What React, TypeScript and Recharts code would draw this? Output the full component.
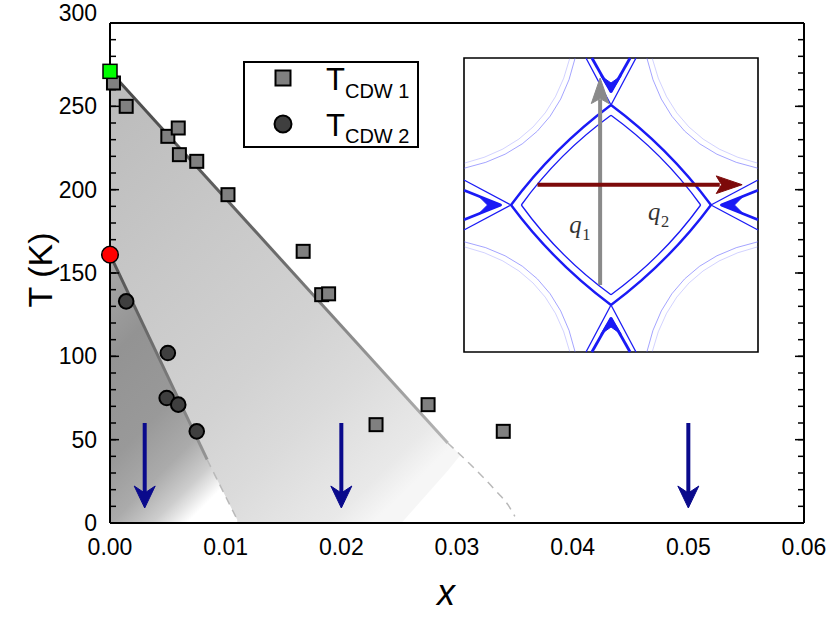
import React from 'react';
import { ComposedChart, XAxis, YAxis, Line, Area, Scatter, ReferenceLine, Legend } from 'recharts';

// ---------- axes ----------
const xTicks = [0, 0.01, 0.02, 0.03, 0.04, 0.05, 0.06];
const xMinorTicks = [0, 0.0025, 0.005, 0.0075, 0.01, 0.0125, 0.015, 0.0175, 0.02, 0.0225, 0.025, 0.0275, 0.03, 0.0325, 0.035, 0.0375, 0.04, 0.0425, 0.045, 0.0475, 0.05, 0.0525, 0.055, 0.0575, 0.06];
const yTicks = [0, 50, 100, 150, 200, 250, 300];
const yMinorTicks = [0, 10, 20, 30, 40, 50, 60, 70, 80, 90, 100, 110, 120, 130, 140, 150, 160, 170, 180, 190, 200, 210, 220, 230, 240, 250, 260, 270, 280, 290, 300];

// ---------- measured points ----------
const cdw1X = [0.0003, 0.0014, 0.005, 0.0059, 0.006, 0.0075, 0.0102, 0.0167, 0.0183, 0.0189, 0.023, 0.0275, 0.034];
const cdw1Y = [264, 250, 232, 237, 221, 217, 197, 163, 137, 137.5, 59, 71, 55];
const cdw2X = [0.0014, 0.005, 0.0049, 0.0059, 0.0075];
const cdw2Y = [133, 102, 75, 71, 55];
const cdw1ZeroX = [0];
const cdw1ZeroY = [271];
const cdw2ZeroX = [0];
const cdw2ZeroY = [161];

// ---------- phase boundaries ----------
const line1SolidX = [0, 0.0292];
const line1SolidY = [271, 48];
const line1DashX = [0.0292, 0.0311, 0.0334, 0.0344, 0.035];
const line1DashY = [48, 35.5, 19, 11, 4];
const line2SolidX = [0, 0.0084];
const line2SolidY = [161, 38];
const line2DashX = [0.0084, 0.011];
const line2DashY = [38, 2];

// shaded regions [low, high]
const outerBandX = [0, 0.0252, 0.0292, 0.0303];
const outerBandLow = [0, 0, 31.4, 40.8];
const outerBandHigh = [271, 78.6, 48, 40.8];
const innerBandX = [0, 0.0084, 0.011];
const innerBandLow = [0, 0, 0];
const innerBandHigh = [161, 38, 2];

// blue arrows
const arrowX = [0.003, 0.02, 0.05];
const arrowTopY = 60;
const arrowStemEndY = 17;
const arrowTipY = 9;

const pts = (xs: number[], ys: number[]) => xs.map((x, i) => ({ x, y: ys[i] }));
const band = (xs: number[], lo: number[], hi: number[]) => xs.map((x, i) => ({ x, band: [lo[i], hi[i]] }));

const cdw1 = pts(cdw1X, cdw1Y);
const cdw2 = pts(cdw2X, cdw2Y);
const cdw1Zero = pts(cdw1ZeroX, cdw1ZeroY);
const cdw2Zero = pts(cdw2ZeroX, cdw2ZeroY);
const line1Solid = pts(line1SolidX, line1SolidY);
const line1Dash = pts(line1DashX, line1DashY);
const line2Solid = pts(line2SolidX, line2SolidY);
const line2Dash = pts(line2DashX, line2DashY);
const outerBand = band(outerBandX, outerBandLow, outerBandHigh);
const innerBand = band(innerBandX, innerBandLow, innerBandHigh);
const arrowTips = arrowX.map((x) => ({ x, y: arrowTipY }));

const FONT = "'Liberation Sans', Arial, Helvetica, sans-serif";
const SERIF = "'Liberation Serif', 'DejaVu Serif', 'Times New Roman', serif";
const NAVY = '#0a0a8c';

const SquareShape = (p: any) => (
  <rect x={p.cx - 6.5} y={p.cy - 6.5} width={13} height={13} fill="#808080" stroke="#000" strokeWidth={2} />
);
const GreenSquare = (p: any) => (
  <rect x={p.cx - 7} y={p.cy - 7} width={14} height={14} fill="#00ff00" stroke="#000" strokeWidth={1.5} />
);
const CircleShape = (p: any) => (
  <circle cx={p.cx} cy={p.cy} r={7.3} fill="#3f3f3f" stroke="#000" strokeWidth={2} />
);
const RedCircle = (p: any) => (
  <circle cx={p.cx} cy={p.cy} r={8.3} fill="#ff0000" stroke="#000" strokeWidth={1.5} />
);
const ArrowHead = (p: any) => (
  <path
    d={`M ${p.cx} ${p.cy} L ${p.cx - 10.5} ${p.cy - 22} L ${p.cx} ${p.cy - 15} L ${p.cx + 10.5} ${p.cy - 22} Z`}
    fill={NAVY}
    stroke={NAVY}
    strokeWidth={1}
    strokeLinejoin="round"
  />
);

const YTick = (props: any) => {
  const { x, y, payload } = props;
  const shift = payload.value === 300 ? -10 : 0;
  return (
    <text x={x} y={y + shift} dy="0.355em" textAnchor="end" fontSize={23} fontFamily={FONT} fill="#000">
      {payload.value}
    </text>
  );
};

const YTitle = (props: any) => {
  const vb = props.viewBox || { x: 0, y: 23, width: 110, height: 500 };
  const cx = vb.x + 52;
  const cy = vb.y + vb.height / 2 - 3;
  return (
    <text x={cx} y={cy} transform={`rotate(-90 ${cx} ${cy})`} textAnchor="middle" fontSize={34} fontFamily={FONT} fill="#000">
      T (K)
    </text>
  );
};

const XTitle = (props: any) => {
  const vb = props.viewBox || { x: 110, y: 523, width: 694, height: 60 };
  return (
    <text x={vb.x + vb.width / 2 - 11} y={vb.y + 82} textAnchor="middle" fontSize={36} fontStyle="italic" fontFamily={FONT} fill="#000">
      x
    </text>
  );
};

const LegendContent = () => (
  <div style={{ boxSizing: 'border-box', width: 176, height: 87, border: '2px solid #000', background: '#fff' }}>
    <svg width={172} height={83} style={{ display: 'block' }}>
      <rect x={30.5} y={7.5} width={15} height={15} fill="#808080" stroke="#000" strokeWidth={2} />
      <circle cx={38} cy={61} r={8.5} fill="#3f3f3f" stroke="#000" strokeWidth={2} />
      <text x={81} y={27} fontSize={31} fontFamily={FONT} fill="#000">
        T<tspan fontSize={20} dy={8}>CDW 1</tspan>
      </text>
      <text x={81} y={73} fontSize={31} fontFamily={FONT} fill="#000">
        T<tspan fontSize={20} dy={7}>CDW 2</tspan>
      </text>
    </svg>
  </div>
);

const BLUE = '#1a1af5';
const quadrantTransforms = ['', 'matrix(-1 0 0 1 100 0)', 'matrix(1 0 0 -1 0 100)', 'matrix(-1 0 0 -1 100 100)'];

const Quadrant = ({ t }: { t: string }) => (
  <g transform={t || undefined} fill="none">
    {/* faint corner arcs */}
    <path d="M 37.8 0 Q 31 31 0 37.5" stroke="#5a5aff" strokeOpacity={0.55} strokeWidth={1} vectorEffect="non-scaling-stroke" />
    <path d="M 36 0 Q 29 29 0 35.8" stroke="#5a5aff" strokeOpacity={0.35} strokeWidth={0.8} vectorEffect="non-scaling-stroke" />
    {/* outer thick diamond side */}
    <path d="M 16 50 Q 30.5 30.5 50 16" stroke={BLUE} strokeWidth={2.4} vectorEffect="non-scaling-stroke" />
    {/* inner thin diamond side */}
    <path d="M 19.5 50 Q 32.3 32.3 50 19.5" stroke={BLUE} strokeWidth={1.3} vectorEffect="non-scaling-stroke" />
    {/* X extensions */}
    <path d="M 50 16 L 41.5 0" stroke={BLUE} strokeWidth={1.3} vectorEffect="non-scaling-stroke" />
    <path d="M 16 50 L 0 41.5" stroke={BLUE} strokeWidth={1.3} vectorEffect="non-scaling-stroke" />
    {/* pockets */}
    <path d="M 43.5 0 L 50 11.5" stroke={BLUE} strokeWidth={2.8} vectorEffect="non-scaling-stroke" />
    <path d="M 46.5 6 L 50 11.8 L 50 8.5 Z" fill={BLUE} stroke={BLUE} strokeWidth={1} vectorEffect="non-scaling-stroke" />
    <path d="M 0 45 L 12.5 50" stroke={BLUE} strokeWidth={2.8} vectorEffect="non-scaling-stroke" />
    <path d="M 5 47 L 12.8 50 L 8 50 Z" fill={BLUE} stroke={BLUE} strokeWidth={1} vectorEffect="non-scaling-stroke" />
  </g>
);

const Inset = () => (
  <svg
    width={294}
    height={294}
    viewBox="0 0 100 100"
    style={{ position: 'absolute', left: 464, top: 58, overflow: 'visible' }}
  >
    <rect x={0} y={0} width={100} height={100} fill="#fff" stroke="#000" strokeWidth={1.6} vectorEffect="non-scaling-stroke" />
    {quadrantTransforms.map((t, i) => (
      <Quadrant key={i} t={t} />
    ))}
    {/* q1 arrow (gray, vertical) */}
    <line x1={46.3} y1={77.2} x2={46.3} y2={14} stroke="#8a8a8a" strokeWidth={4} vectorEffect="non-scaling-stroke" />
    <path d="M 46.3 6.8 L 43.3 15.5 L 46.3 13.8 L 49.3 15.5 Z" fill="#8a8a8a" stroke="#8a8a8a" strokeWidth={1} vectorEffect="non-scaling-stroke" />
    {/* q2 arrow (dark red, horizontal) */}
    <line x1={25} y1={43.1} x2={87} y2={43.1} stroke="#7d0a0a" strokeWidth={4} vectorEffect="non-scaling-stroke" />
    <path d="M 94.6 43.1 L 85.8 40.1 L 87.6 43.1 L 85.8 46.1 Z" fill="#7d0a0a" stroke="#7d0a0a" strokeWidth={1} vectorEffect="non-scaling-stroke" />
    <text x={35.8} y={59.5} fontSize={8.4} fontStyle="italic" fontFamily={SERIF} fill="#333">
      q
    </text>
    <text x={40.2} y={62} fontSize={5.6} fontFamily={SERIF} fill="#333">
      1
    </text>
    <text x={62.6} y={55} fontSize={8.4} fontStyle="italic" fontFamily={SERIF} fill="#333">
      q
    </text>
    <text x={67} y={57.5} fontSize={5.6} fontFamily={SERIF} fill="#333">
      2
    </text>
  </svg>
);

const blank = () => '';
const TL = { stroke: '#000', strokeWidth: 1.5 };

export default function App() {
  return (
    <div style={{ position: 'absolute', left: 0, top: 0, width: 830, height: 622, background: '#fff' }}>
      <ComposedChart width={830} height={622} margin={{ top: 23, right: 26, bottom: 39, left: 0 }}>
        <defs>
          <linearGradient id="gOuter" x1="0" y1="0" x2="0.75" y2="1">
            <stop offset="0" stopColor="#bababa" />
            <stop offset="0.35" stopColor="#c8c8c8" />
            <stop offset="0.62" stopColor="#d2d2d2" />
            <stop offset="0.77" stopColor="#dbdbdb" />
            <stop offset="0.94" stopColor="#e9e9e9" />
            <stop offset="1" stopColor="#f6f6f6" />
          </linearGradient>
          <linearGradient id="gInner" x1="0" y1="0" x2="0.5" y2="1.05">
            <stop offset="0" stopColor="#a9a9a9" />
            <stop offset="0.3" stopColor="#939393" />
            <stop offset="0.6" stopColor="#999999" />
            <stop offset="0.78" stopColor="#ababab" />
            <stop offset="0.9" stopColor="#cdcdcd" />
            <stop offset="1" stopColor="#ffffff" />
          </linearGradient>
          <linearGradient id="gLine1" x1="0" y1="0" x2="0" y2="1">
            <stop offset="0" stopColor="#474747" />
            <stop offset="0.5" stopColor="#6c6c6c" />
            <stop offset="1" stopColor="#b5b5b5" />
          </linearGradient>
          <linearGradient id="gLine2" x1="0" y1="0" x2="0" y2="1">
            <stop offset="0" stopColor="#505050" />
            <stop offset="1" stopColor="#949494" />
          </linearGradient>
        </defs>

        {/* main axes with labels */}
        <XAxis
          xAxisId={0}
          dataKey="x"
          type="number"
          domain={[0, 0.06]}
          ticks={xTicks}
          interval={0}
          tickFormatter={(v: number) => v.toFixed(2)}
          tick={{ fontSize: 23, fontFamily: FONT, fill: '#000' }}
          tickLine={false}
          tickSize={0}
          tickMargin={16}
          axisLine={{ stroke: '#000', strokeWidth: 2 }}
          height={60}
          label={<XTitle />}
        />
        <YAxis
          yAxisId={0}
          type="number"
          domain={[0, 300]}
          ticks={yTicks}
          interval={0}
          tick={<YTick />}
          tickLine={false}
          tickSize={0}
          tickMargin={13}
          axisLine={{ stroke: '#000', strokeWidth: 2 }}
          width={110}
          label={<YTitle />}
        />
        {/* inward tick axes */}
        <XAxis xAxisId="bMaj" type="number" domain={[0, 0.06]} allowDataOverflow ticks={xTicks} interval={0} mirror height={1} tickSize={8} tickLine={TL} axisLine={false} tickFormatter={blank} />
        <XAxis xAxisId="bMin" type="number" domain={[0, 0.06]} allowDataOverflow ticks={xMinorTicks} interval={0} mirror height={1} tickSize={5} tickLine={TL} axisLine={false} tickFormatter={blank} />
        <XAxis xAxisId="tMaj" orientation="top" type="number" domain={[0, 0.06]} allowDataOverflow ticks={xTicks} interval={0} mirror height={1} tickSize={8} tickLine={TL} axisLine={{ stroke: '#000', strokeWidth: 2 }} tickFormatter={blank} />
        <XAxis xAxisId="tMin" orientation="top" type="number" domain={[0, 0.06]} allowDataOverflow ticks={xMinorTicks} interval={0} mirror height={1} tickSize={5} tickLine={TL} axisLine={false} tickFormatter={blank} />
        <YAxis yAxisId="lMaj" type="number" domain={[0, 300]} allowDataOverflow ticks={yTicks} interval={0} mirror width={1} tickSize={9} tickLine={TL} axisLine={false} tickFormatter={blank} />
        <YAxis yAxisId="lMin" type="number" domain={[0, 300]} allowDataOverflow ticks={yMinorTicks} interval={0} mirror width={1} tickSize={5} tickLine={TL} axisLine={false} tickFormatter={blank} />
        <YAxis yAxisId="rMaj" orientation="right" type="number" domain={[0, 300]} allowDataOverflow ticks={yTicks} interval={0} mirror width={1} tickSize={9} tickLine={TL} axisLine={{ stroke: '#000', strokeWidth: 2 }} tickFormatter={blank} />
        <YAxis yAxisId="rMin" orientation="right" type="number" domain={[0, 300]} allowDataOverflow ticks={yMinorTicks} interval={0} mirror width={1} tickSize={5} tickLine={TL} axisLine={false} tickFormatter={blank} />

        {/* shaded phase regions */}
        <Area data={outerBand} dataKey="band" type="linear" stroke="none" fill="url(#gOuter)" fillOpacity={1} isAnimationActive={false} dot={false} activeDot={false} />
        <Area data={innerBand} dataKey="band" type="linear" stroke="none" fill="url(#gInner)" fillOpacity={1} isAnimationActive={false} dot={false} activeDot={false} />

        {/* boundaries */}
        <Line data={line1Solid} dataKey="y" type="linear" stroke="url(#gLine1)" strokeWidth={3} dot={false} activeDot={false} isAnimationActive={false} />
        <Line data={line1Dash} dataKey="y" type="monotone" stroke="#b9b9b9" strokeWidth={1.5} strokeDasharray="8 6" dot={false} activeDot={false} isAnimationActive={false} />
        <Line data={line2Solid} dataKey="y" type="linear" stroke="url(#gLine2)" strokeWidth={3} dot={false} activeDot={false} isAnimationActive={false} />
        <Line data={line2Dash} dataKey="y" type="linear" stroke="#b9b9b9" strokeWidth={1.5} strokeDasharray="8 6" dot={false} activeDot={false} isAnimationActive={false} />

        {/* arrows */}
        {arrowX.map((x) => (
          <ReferenceLine
            key={x}
            segment={[
              { x, y: arrowTopY },
              { x, y: arrowStemEndY },
            ]}
            stroke={NAVY}
            strokeWidth={4}
          />
        ))}
        <Scatter data={arrowTips} dataKey="y" shape={<ArrowHead />} isAnimationActive={false} />

        {/* data */}
        <Scatter data={cdw1} dataKey="y" shape={<SquareShape />} isAnimationActive={false} />
        <Scatter data={cdw2} dataKey="y" shape={<CircleShape />} isAnimationActive={false} />
        <Scatter data={cdw1Zero} dataKey="y" shape={<GreenSquare />} isAnimationActive={false} />
        <Scatter data={cdw2Zero} dataKey="y" shape={<RedCircle />} isAnimationActive={false} />

        <Legend
          layout="horizontal"
          verticalAlign="middle"
          align="center"
          content={<LegendContent />}
          wrapperStyle={{ left: 243, top: 61, right: 'auto', bottom: 'auto', width: 176, height: 87, margin: 0 }}
        />
      </ComposedChart>
      <Inset />
    </div>
  );
}
